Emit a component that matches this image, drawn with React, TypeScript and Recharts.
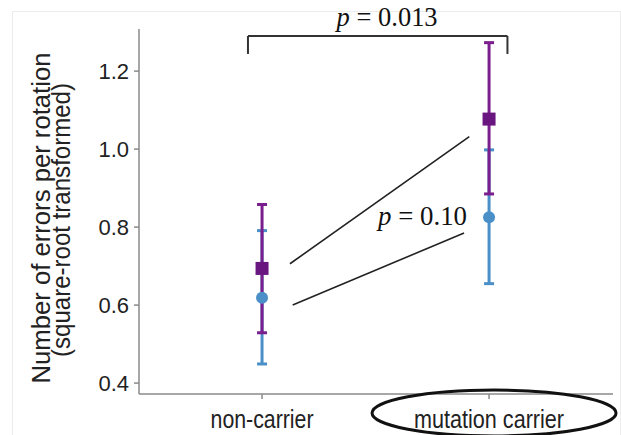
import { ComposedChart, Scatter, ErrorBar, XAxis, YAxis, ReferenceLine, ReferenceDot } from 'recharts';

const categories = ['non-carrier', 'mutation carrier'];

// purple squares
const purpleMean = [0.694, 1.077];
const purpleLow = [0.529, 0.885];
const purpleHigh = [0.858, 1.273];

// blue circles
const blueMean = [0.619, 0.825];
const blueLow = [0.449, 0.655];
const blueHigh = [0.791, 0.998];

const yTicks = [0.4, 0.6, 0.8, 1.0, 1.2];

// annotation lines (data coords)
const upperSlope = [{ x: 0.123, y: 0.706 }, { x: 0.913, y: 1.032 }];
const lowerSlope = [{ x: 0.135, y: 0.6 }, { x: 0.89, y: 0.785 }];
const bracketX = [-0.062, 1.081];
const bracketY = [1.244, 1.29];

const PURPLE = '#7a1e8e';
const PURPLE_DARK = '#6a1680';
const BLUE = '#4a8fc8';
const AXIS = '#8a8a8a';
const SANS = '"Liberation Sans", Arial, Helvetica, sans-serif';
const SERIF = '"Liberation Serif", "Times New Roman", serif';

const purpleData = categories.map((_, i) => ({
  x: i,
  y: purpleMean[i],
  err: [purpleMean[i] - purpleLow[i], purpleHigh[i] - purpleMean[i]],
}));

const blueData = categories.map((_, i) => ({
  x: i,
  y: blueMean[i],
  err: [blueMean[i] - blueLow[i], blueHigh[i] - blueMean[i]],
}));

const labelWidths = [103, 150];

function XTick(props: any) {
  const { x, y, payload } = props;
  const i = payload.value as number;
  return (
    <g>
      {i === 1 && (
        <ellipse cx={x + 5} cy={y + 14} rx={122} ry={23} fill="none" stroke="#111" strokeWidth={3} />
      )}
      <text
        x={x}
        y={y + 29}
        textAnchor="middle"
        fontSize={25}
        fontFamily={SANS}
        fill="#222"
        textLength={labelWidths[i]}
        lengthAdjust="spacingAndGlyphs"
      >
        {categories[i]}
      </text>
    </g>
  );
}

function YLabel() {
  return (
    <g fontFamily={SANS} fontSize={25} fill="#222">
      <text
        transform="translate(50,218) rotate(-90)"
        textAnchor="middle"
        textLength={331}
        lengthAdjust="spacingAndGlyphs"
      >
        Number of errors per rotation
      </text>
      <text
        transform="translate(70,220) rotate(-90)"
        textAnchor="middle"
        textLength={274}
        lengthAdjust="spacingAndGlyphs"
      >
        (square-root transformed)
      </text>
    </g>
  );
}

function PText({ cx, cy, value, width, dy = 0 }: any) {
  return (
    <text
      x={cx}
      y={cy + dy}
      textAnchor="middle"
      fontFamily={SERIF}
      fontSize={27}
      fill="#111"
      textLength={width}
      lengthAdjust="spacingAndGlyphs"
    >
      <tspan fontStyle="italic">p</tspan> = {value}
    </text>
  );
}

export default function App() {
  return (
    <div style={{ position: 'relative', width: 621, height: 435, background: '#fff' }}>
      <style>{'body{margin:0}'}</style>
      <div
        style={{
          position: 'absolute',
          left: 12,
          top: 11,
          width: 607,
          height: 430,
          border: '1px solid #ececec',
          borderBottom: 'none',
        }}
      />
      <ComposedChart
        width={621}
        height={435}
        margin={{ top: 29, right: 8, bottom: 0, left: 0 }}
        style={{ position: 'absolute', left: 0, top: 0 }}
      >
        <XAxis
          type="number"
          dataKey="x"
          domain={[-0.542, 1.546]}
          ticks={[0, 1]}
          height={41}
          tickSize={5}
          tickMargin={0}
          stroke={AXIS}
          strokeWidth={1.5}
          tick={<XTick />}
          allowDataOverflow
        />
        <YAxis
          type="number"
          dataKey="y"
          domain={[0.372, 1.308]}
          ticks={yTicks}
          width={139}
          tickSize={5}
          tickMargin={5}
          stroke={AXIS}
          strokeWidth={1.5}
          tick={{ fontSize: 22, fontFamily: SANS, fill: '#222' }}
          tickFormatter={(v: number) => v.toFixed(1)}
          allowDataOverflow
          label={{ content: () => <YLabel /> }}
        />

        <ReferenceLine segment={upperSlope} stroke="#222" strokeWidth={1.6} ifOverflow="visible" />
        <ReferenceLine segment={lowerSlope} stroke="#222" strokeWidth={1.6} ifOverflow="visible" />

        <ReferenceLine
          segment={[{ x: bracketX[0], y: bracketY[0] }, { x: bracketX[0], y: bracketY[1] }]}
          stroke="#333"
          strokeWidth={2}
          ifOverflow="visible"
        />
        <ReferenceLine
          segment={[{ x: bracketX[0], y: bracketY[1] }, { x: bracketX[1], y: bracketY[1] }]}
          stroke="#333"
          strokeWidth={2}
          ifOverflow="visible"
        />
        <ReferenceLine
          segment={[{ x: bracketX[1], y: bracketY[1] }, { x: bracketX[1], y: bracketY[0] }]}
          stroke="#333"
          strokeWidth={2}
          ifOverflow="visible"
        />

        <Scatter
          data={blueData}
          fill={BLUE}
          isAnimationActive={false}
          shape={(p: any) => <circle cx={p.cx} cy={p.cy} r={6} fill={BLUE} />}
        >
          <ErrorBar dataKey="err" direction="y" width={5} strokeWidth={3} stroke={BLUE} />
        </Scatter>
        <Scatter
          data={purpleData}
          fill={PURPLE}
          isAnimationActive={false}
          shape={(p: any) => (
            <rect x={p.cx - 6.5} y={p.cy - 6.5} width={13} height={13} fill={PURPLE_DARK} />
          )}
        >
          <ErrorBar dataKey="err" direction="y" width={5} strokeWidth={3} stroke={PURPLE} />
        </Scatter>

        <ReferenceDot
          x={0.551}
          y={bracketY[1]}
          r={0}
          ifOverflow="visible"
          shape={(p: any) => <PText {...p} value="0.013" width={101} dy={-10} />}
        />
        <ReferenceDot
          x={0.707}
          y={0.805}
          r={0}
          ifOverflow="visible"
          shape={(p: any) => <PText {...p} value="0.10" width={89} />}
        />
      </ComposedChart>
    </div>
  );
}
